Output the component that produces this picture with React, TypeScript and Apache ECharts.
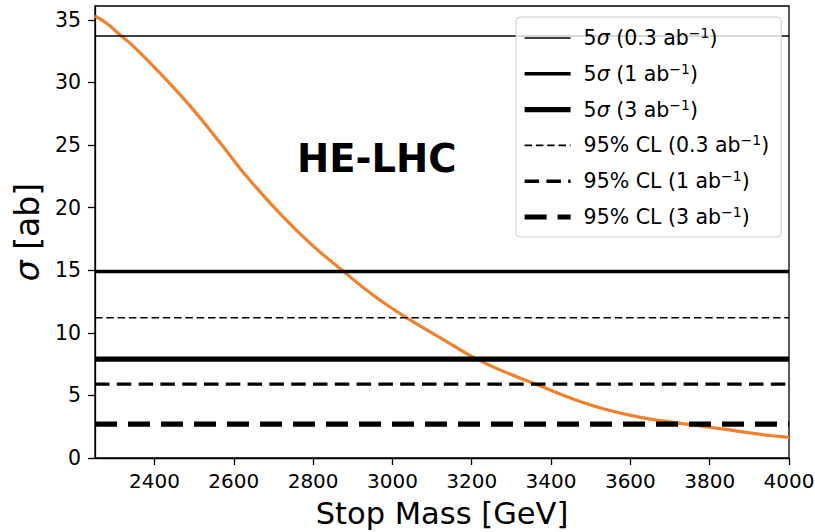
import React, { useEffect, useRef } from 'react';
import * as echarts from 'echarts';

// Stop mass (GeV) and cross-section (ab) of the orange curve
const massGeV = [2250, 2280, 2309, 2343, 2406, 2490, 2570, 2632, 2717, 2801, 2877, 2919, 2978, 3036, 3121, 3213, 3289, 3373, 3457, 3541, 3625, 3726, 3835, 3920, 4000];
const sigmaAb = [35.3, 34.7, 33.9, 33.0, 31.0, 28.1, 25.0, 22.5, 19.5, 16.9, 14.9, 13.8, 12.4, 11.2, 9.6, 7.9, 6.8, 5.75, 4.7, 3.85, 3.25, 2.77, 2.3, 1.92, 1.65];

// Horizontal limit lines
const limitNames = ['5σ (0.3 ab⁻¹)', '5σ (1 ab⁻¹)', '5σ (3 ab⁻¹)', '95% CL (0.3 ab⁻¹)', '95% CL (1 ab⁻¹)', '95% CL (3 ab⁻¹)'];
const limitValues = [33.7, 14.9, 7.9, 11.2, 5.9, 2.7];

// Axes
const xRange = [2250, 4000];
const yRange = [0, 36.1];
const xTicks = [2400, 2600, 2800, 3000, 3200, 3400, 3600, 3800, 4000];
const yTicks = [0, 5, 10, 15, 20, 25, 30, 35];

// Styles (not data)
const limitWidths = [1.6, 3.4, 5.2, 1.6, 3.4, 5.2];
const limitDashes: (number[] | 'solid')[] = ['solid', 'solid', 'solid', [7.5, 3.8], [14.5, 7.3], [22, 11]];

const FONT = '"DejaVu Sans", sans-serif';

export default function App() {
  const ref = useRef<HTMLDivElement>(null);
  useEffect(() => {
    if (!ref.current) return;
    const chart = echarts.init(ref.current, null, { renderer: 'svg' });
    const curve = massGeV.map((m, i) => [m, sigmaAb[i]]);
    const limitSeries = limitNames.map((name, i) => ({
      name,
      type: 'line',
      data: [[xRange[0], limitValues[i]], [xRange[1], limitValues[i]]],
      symbol: 'none',
      silent: true,
      lineStyle: { color: '#000', width: limitWidths[i], type: limitDashes[i], cap: 'butt' },
      itemStyle: { color: '#000' },
      z: 3,
    }));
    chart.setOption({
      animation: false,
      backgroundColor: '#fff',
      textStyle: { fontFamily: FONT },
      grid: { left: 95, right: 26, top: 6, bottom: 74, show: true, borderColor: '#000', borderWidth: 1.3, outerBoundsMode: 'none' },
      xAxis: {
        type: 'value',
        min: xRange[0],
        max: xRange[1],
        name: 'Stop Mass [GeV]',
        nameLocation: 'middle',
        nameGap: 40,
        nameTextStyle: { fontSize: 30.5, fontFamily: FONT, color: '#000' },
        axisLine: { show: true, lineStyle: { color: '#000', width: 1.3 } },
        axisTick: { show: true, length: 7, inside: false, lineStyle: { color: '#000', width: 1.3 }, customValues: xTicks },
        axisLabel: { fontSize: 20, fontFamily: FONT, color: '#000', margin: 13, customValues: xTicks, formatter: (v: number) => String(v) },
        splitLine: { show: false },
      },
      yAxis: {
        type: 'value',
        min: yRange[0],
        max: yRange[1],
        name: '{i|σ} [ab]',
        nameLocation: 'middle',
        nameGap: 51,
        nameTextStyle: {
          fontSize: 33, fontFamily: FONT, color: '#000',
          rich: { i: { fontSize: 33, fontFamily: FONT, fontStyle: 'italic', color: '#000' } },
        },
        axisLine: { show: true, lineStyle: { color: '#000', width: 1.3 } },
        axisTick: { show: true, length: 7, inside: false, lineStyle: { color: '#000', width: 1.3 }, customValues: yTicks },
        axisLabel: { fontSize: 20.5, fontFamily: FONT, color: '#000', margin: 14, customValues: yTicks, formatter: (v: number) => String(v) },
        splitLine: { show: false },
      },
      legend: {
        data: limitNames.map((name, i) => ({
          name,
          lineStyle: { color: '#000', width: limitWidths[i], type: limitDashes[i], cap: 'butt' },
          itemStyle: { opacity: 0 },
        })),
        orient: 'vertical',
        left: 516,
        top: 17,
        padding: [9, 12, 8, 6],
        itemWidth: 46,
        itemHeight: 14,
        itemGap: 11.8,
        backgroundColor: 'rgba(255,255,255,0.8)',
        borderColor: '#cccccc',
        borderWidth: 1,
        borderRadius: 4,
        selectedMode: false,
        itemStyle: { opacity: 0 },
        formatter: (name: string) => name.replace('σ', '{i|σ}').replace('⁻¹', '{s|−1}'),
        textStyle: {
          fontSize: 20.5,
          fontFamily: FONT,
          color: '#000',
          lineHeight: 24,
          padding: [0, 0, 0, 8],
          rich: {
            i: { fontSize: 20.5, fontFamily: FONT, fontStyle: 'italic', color: '#000', lineHeight: 24 },
            s: { fontSize: 14, fontFamily: FONT, color: '#000', lineHeight: 12, verticalAlign: 'top' },
          },
        },
      },
      graphic: [
        {
          type: 'text',
          x: 297,
          y: 158,
          style: { text: 'HE-LHC', font: `bold 38.5px ${FONT}`, fill: '#000', verticalAlign: 'middle', align: 'left' },
          z: 10,
        },
      ],
      series: [
        {
          name: 'curve',
          type: 'line',
          data: curve,
          symbol: 'none',
          smooth: 0.4,
          silent: true,
          lineStyle: { color: '#f0822e', width: 3.2 },
          z: 2,
        },
        ...limitSeries,
      ],
    });
    return () => chart.dispose();
  }, []);
  return <div ref={ref} style={{ position: 'fixed', left: 0, top: 0, width: 815, height: 532 }} />;
}
